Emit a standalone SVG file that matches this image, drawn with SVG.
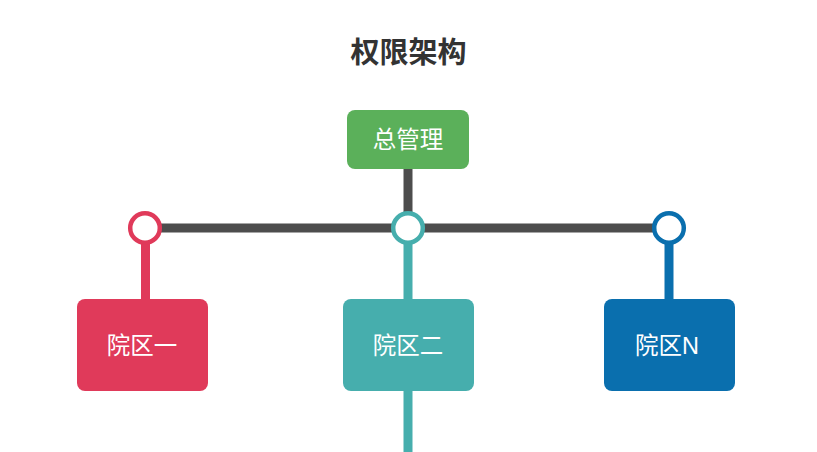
<svg xmlns="http://www.w3.org/2000/svg" width="817" height="452" viewBox="0 0 817 452">
<style>
.t{font-family:"Liberation Sans","Noto Sans CJK SC",sans-serif;fill:#fff;font-size:23.5px;text-anchor:middle;dominant-baseline:central}
.title{font-family:"Liberation Sans","Noto Sans CJK SC",sans-serif;fill:#333;font-size:29px;font-weight:bold;text-anchor:middle;dominant-baseline:central}
.ring{fill:#fff;stroke-width:4.5}
</style>
<rect width="817" height="452" fill="#fff"/>
<text class="title" x="408.5" y="53">权限架构</text>
<g id="connectors">
<line x1="408" y1="168" x2="408" y2="214" stroke="#4d4d4d" stroke-width="9"/>
<line x1="160" y1="228" x2="654" y2="228" stroke="#4d4d4d" stroke-width="9"/>
<line x1="145.5" y1="242" x2="145.5" y2="300" stroke="#e03a5a" stroke-width="9"/>
<line x1="408" y1="242" x2="408" y2="452" stroke="#46aead" stroke-width="9"/>
<line x1="669" y1="242" x2="669" y2="300" stroke="#0a6fae" stroke-width="9"/>
</g>
<g id="ring-1"><circle class="ring" cx="145" cy="228" r="14.8" stroke="#e03a5a"/></g>
<g id="ring-2"><circle class="ring" cx="408" cy="228" r="14.8" stroke="#46aead"/></g>
<g id="ring-3"><circle class="ring" cx="669" cy="228" r="14.8" stroke="#0a6fae"/></g>
<g id="root"><rect x="347" y="110" width="122" height="59" rx="8" fill="#5bb05a"/><text class="t" x="408" y="140">总管理</text></g>
<g id="campus-1"><rect x="77" y="299" width="131" height="92" rx="8" fill="#e03a5a"/><text class="t" x="142" y="346">院区一</text></g>
<g id="campus-2"><rect x="343" y="299" width="131" height="92" rx="8" fill="#46aead"/><text class="t" x="408" y="346">院区二</text></g>
<g id="campus-n"><rect x="604" y="299" width="131" height="92" rx="8" fill="#0a6fae"/><text class="t" x="667" y="346">院区N</text></g>
</svg>
